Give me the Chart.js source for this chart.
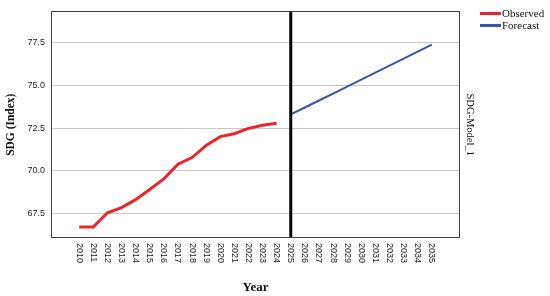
<!DOCTYPE html>
<html>
<head>
<meta charset="utf-8">
<script src="https://cdn.jsdelivr.net/npm/chart.js@4.4.1/dist/chart.umd.min.js"></script>
<style>
html,body{margin:0;padding:0;background:#fff;}
#wrap{width:550px;height:296px;}
</style>
</head>
<body>
<div id="wrap"><canvas id="c" width="550" height="296"></canvas></div>
<script>
const years = [2010,2011,2012,2013,2014,2015,2016,2017,2018,2019,2020,2021,2022,2023,2024,2025,2026,2027,2028,2029,2030,2031,2032,2033,2034,2035];
const observedYears = [2010,2011,2012,2013,2014,2015,2016,2017,2018,2019,2020,2021,2022,2023,2024];
const observedValues = [66.7,66.7,67.53,67.83,68.3,68.9,69.52,70.38,70.77,71.48,72.0,72.17,72.48,72.67,72.78];
const forecastYears = [2025,2026,2027,2028,2029,2030,2031,2032,2033,2034,2035];
const forecastValues = [73.3,73.71,74.12,74.53,74.94,75.35,75.76,76.17,76.58,76.99,77.4];
const yTicks = [67.5,70.0,72.5,75.0,77.5];
const splitYear = 2025;
const seriesNames = ['Observed','Forecast'];
const yTitle = 'SDG (Index)';
const xTitle = 'Year';
const sideTitle = 'SDG-Model_1';

const obsColor = '#e8262d';
const fcColor = '#3559a8';

const extras = {
  id: 'extras',
  afterDatasetsDraw(chart) {
    const ctx = chart.ctx;
    const xs = chart.scales.x, ys = chart.scales.y;
    const a = chart.chartArea;
    ctx.save();
    // split line
    const sx = xs.getPixelForValue(splitYear);
    ctx.strokeStyle = '#000';
    ctx.lineWidth = 3;
    ctx.beginPath();
    ctx.moveTo(sx, a.top);
    ctx.lineTo(sx, a.bottom);
    ctx.stroke();
    // frame
    ctx.strokeStyle = '#404040';
    ctx.lineWidth = 1;
    ctx.strokeRect(Math.round(a.left)+0.5, Math.round(a.top)+0.5, Math.round(a.right-a.left)-1, Math.round(a.bottom-a.top)-1);
    // x tick labels rotated clockwise
    ctx.fillStyle = '#222';
    ctx.font = '9px "Liberation Sans", Arial, sans-serif';
    ctx.textAlign = 'left';
    ctx.textBaseline = 'middle';
    years.forEach(yv => {
      const px = xs.getPixelForValue(yv);
      ctx.save();
      ctx.translate(px, a.bottom + 5);
      ctx.rotate(Math.PI/2);
      ctx.fillText(String(yv), 0, 0);
      ctx.restore();
    });
    // side title
    ctx.font = '10.5px "Liberation Serif", "Times New Roman", serif';
    ctx.fillStyle = '#111';
    ctx.textAlign = 'center';
    ctx.save();
    ctx.translate(470, (a.top + a.bottom)/2);
    ctx.rotate(Math.PI/2);
    ctx.fillText(sideTitle, 0, 0);
    ctx.restore();
    // legend
    const cols = [obsColor, fcColor];
    ctx.textAlign = 'left';
    ctx.font = '11px "Liberation Serif", "Times New Roman", serif';
    seriesNames.forEach((n, i) => {
      const ly = 13.5 + i*12;
      ctx.strokeStyle = cols[i];
      ctx.lineWidth = 3;
      ctx.beginPath();
      ctx.moveTo(480, ly);
      ctx.lineTo(501, ly);
      ctx.stroke();
      ctx.fillStyle = '#111';
      ctx.fillText(n, 502, ly + 0.5);
    });
    ctx.restore();
  }
};

new Chart(document.getElementById('c'), {
  type: 'line',
  data: {
    datasets: [
      {
        label: seriesNames[0],
        data: observedYears.map((x, i) => ({x: x, y: observedValues[i]})),
        borderColor: obsColor,
        backgroundColor: obsColor,
        borderWidth: 3,
        pointRadius: 0,
        tension: 0
      },
      {
        label: seriesNames[1],
        data: forecastYears.map((x, i) => ({x: x, y: forecastValues[i]})),
        borderColor: fcColor,
        backgroundColor: fcColor,
        borderWidth: 2,
        pointRadius: 0,
        tension: 0
      }
    ]
  },
  options: {
    responsive: false,
    animation: false,
    layout: { padding: { left: 0, right: 90, top: 7, bottom: 0 } },
    plugins: { legend: { display: false }, tooltip: { enabled: false } },
    scales: {
      x: {
        type: 'linear',
        min: 2008,
        max: 2037,
        grid: { display: false, drawTicks: false },
        border: { display: false },
        ticks: { display: false },
        afterFit(s) { s.height = 58; },
        title: {
          display: true,
          text: xTitle,
          color: '#111',
          font: { family: '"Liberation Serif", "Times New Roman", serif', size: 13, weight: 'bold' },
          padding: { top: 0, bottom: 1 }
        }
      },
      y: {
        type: 'linear',
        min: 66.05,
        max: 79.35,
        afterBuildTicks(s) { s.ticks = yTicks.map(v => ({value: v})); },
        afterFit(s) { s.width = 51; },
        grid: { color: '#c8c8c8', lineWidth: 1, drawTicks: false },
        border: { display: false },
        ticks: {
          color: '#222',
          padding: 6,
          font: { family: '"Liberation Sans", Arial, sans-serif', size: 9 },
          callback: v => Number(v).toFixed(1)
        },
        title: {
          display: true,
          text: yTitle,
          color: '#111',
          font: { family: '"Liberation Serif", "Times New Roman", serif', size: 11.5, weight: 'bold' },
          padding: { top: 4.5, bottom: 0 }
        }
      }
    }
  },
  plugins: [extras]
});
</script>
</body>
</html>
